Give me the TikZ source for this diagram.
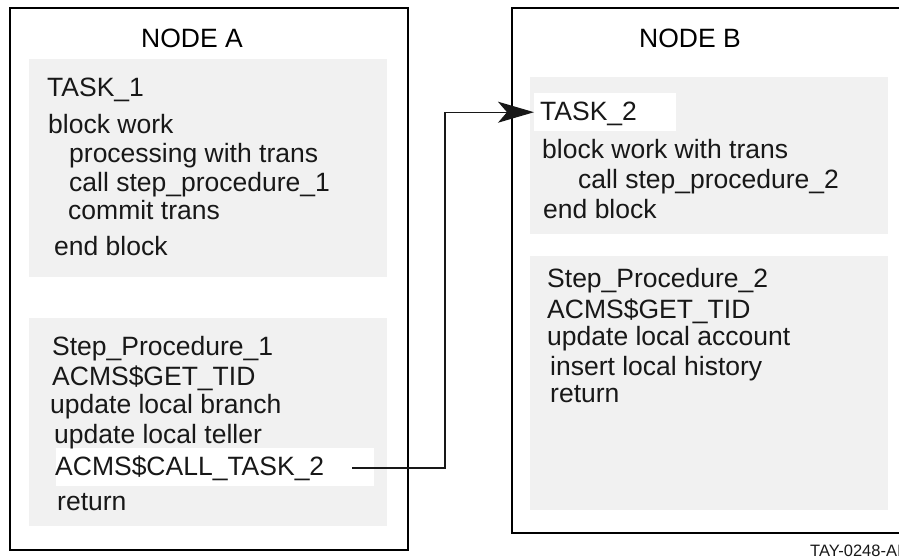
\documentclass[tikz,border=0pt]{standalone}
\usepackage{fontspec}
\setmainfont{Liberation Sans}
\usetikzlibrary{arrows.meta}
\definecolor{boxgray}{HTML}{F1F1F1}
\definecolor{ink}{HTML}{181818}
\begin{document}
\begin{tikzpicture}[x=1pt,y=-1pt,
  outerbox/.style={draw=black, line width=2.2pt, fill=none},
  graybox/.style={fill=boxgray, draw=none, anchor=north west, inner sep=0pt},
  whitebox/.style={fill=white, draw=none, anchor=north west, inner sep=0pt},
  txt/.style={anchor=base west, inner sep=0pt, text=ink, font=\fontsize{26.5}{30}\selectfont},
  title/.style={anchor=base, inner sep=0pt, text=black, font=\fontsize{26.5}{30}\selectfont},
  conn/.style={draw=ink, line width=1.2pt}]
\useasboundingbox (0,0) rectangle (899,557);
% outer frames
\draw[outerbox] (10,8) rectangle (408,550);
\draw[outerbox] (512,8) rectangle (925,533);
% gray panels node A
\node[graybox, minimum width=358pt, minimum height=218pt] (t1box) at (29,59) {};
\node[graybox, minimum width=358pt, minimum height=208pt] (sp1box) at (29,318) {};
% gray panels node B
\node[graybox, minimum width=358pt, minimum height=157pt] (t2box) at (530,77) {};
\node[graybox, minimum width=358pt, minimum height=254pt] (sp2box) at (530,256) {};
% white highlights
\node[whitebox, minimum width=318pt, minimum height=38pt] (callbox) at (56,448) {};
\node[whitebox, minimum width=142pt, minimum height=38pt] (t2hl) at (534,93) {};
% titles
\node[title] (na) at (192,47) {NODE A};
\node[title] (nb) at (690,47) {NODE B};
% node A texts
\node[txt] (a1) at (47,96) {TASK\_1};
\node[txt] (a2) at (48,133) {block work};
\node[txt] (a3) at (69,162) {processing with trans};
\node[txt] (a4) at (69,191) {call step\_procedure\_1};
\node[txt] (a5) at (68,219) {commit trans};
\node[txt] (a6) at (54,255) {end block};
\node[txt] (p1) at (52,355) {Step\_Procedure\_1};
\node[txt] (p2) at (52,385) {ACMS\$GET\_TID};
\node[txt] (p3) at (50,413) {update local branch};
\node[txt] (p4) at (54,443) {update local teller};
\node[txt] (p5) at (55,475) {ACMS\$CALL\_TASK\_2};
\node[txt] (p6) at (57,510) {return};
% node B texts
\node[txt] (b1) at (540,120) {TASK\_2};
\node[txt] (b2) at (542,158) {block work with trans};
\node[txt] (b3) at (578,188) {call step\_procedure\_2};
\node[txt] (b4) at (543,218) {end block};
\node[txt] (q1) at (547,287) {Step\_Procedure\_2};
\node[txt] (q2) at (547,318) {ACMS\$GET\_TID};
\node[txt] (q3) at (547,345) {update local account};
\node[txt] (q4) at (550,375) {insert local history};
\node[txt] (q5) at (550,402) {return};
% figure id
\node[anchor=base west, inner sep=0pt, text=ink, font=\fontsize{16.5}{18}\selectfont] (fid) at (810,556) {TAY-0248-AI};
% connector
\coordinate (cstart) at (352,468);
\coordinate (cbend) at (445,468);
\draw[conn, -{Stealth[length=36pt,width=21pt,inset=9pt]}] (cstart) -- (cbend) |- (t2hl.west);
\end{tikzpicture}
\end{document}
